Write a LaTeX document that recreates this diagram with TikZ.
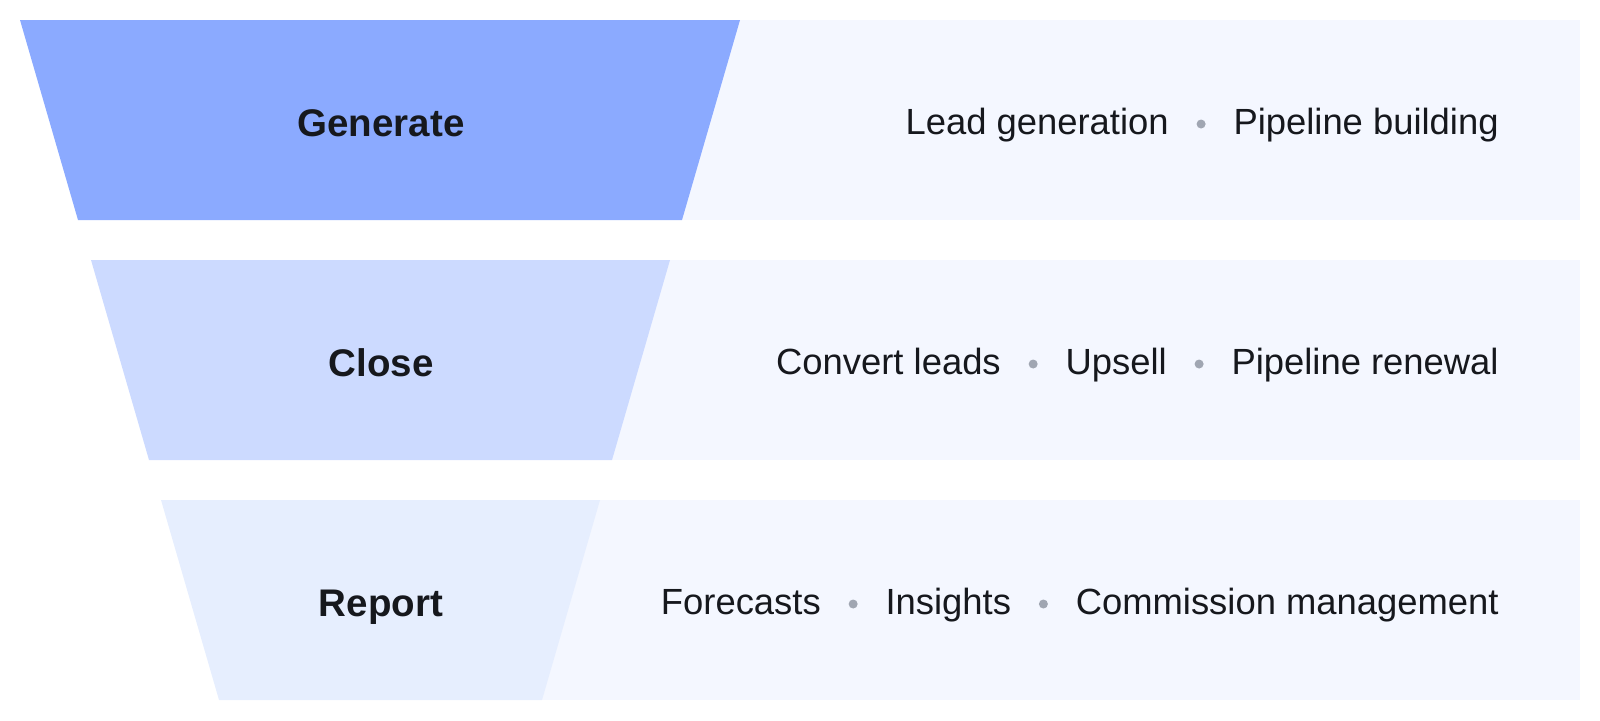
\documentclass[tikz,border=0pt]{standalone}
\usepackage{fontspec}
\setmainfont{Liberation Sans}
\usetikzlibrary{positioning}

\definecolor{genblue}{HTML}{8BAAFF}
\definecolor{closeblue}{HTML}{CCDAFF}
\definecolor{reportblue}{HTML}{E6EEFE}
\definecolor{bandbg}{HTML}{F4F7FF}
\definecolor{ink}{HTML}{16181D}
\definecolor{dotgray}{HTML}{A0A6B2}

\tikzset{
  stage/.style={font=\bfseries\fontsize{19.25}{23}\selectfont, text=ink, anchor=base, inner sep=0pt},
  item/.style={font=\fontsize{18.2}{22}\selectfont, text=ink, inner sep=0pt},
  dot/.style={circle, fill=dotgray, inner sep=0pt, minimum size=4.5pt, yshift=5pt},
}

\begin{document}
\begin{tikzpicture}[x=0.5pt,y=-0.5pt]
\useasboundingbox (0,0) rectangle (1600,720);
% bands
\fill[bandbg] (682,20) rectangle (1580,220);
\fill[bandbg] (612,260) rectangle (1580,460);
\fill[bandbg] (542,500) rectangle (1580,700);
% funnel
\fill[genblue] (20,20) -- (740,20) -- (682,220) -- (78,220) -- cycle;
\fill[closeblue] (91,260) -- (670,260) -- (612,460) -- (149,460) -- cycle;
\fill[reportblue] (161,500) -- (600,500) -- (542,700) -- (219,700) -- cycle;

\node[stage] (gen) at (381,136) {Generate};
\node[stage] (close) at (381,376) {Close};
\node[stage] (report) at (381,616) {Report};

% generate
\node[item, anchor=base east] (gen2) at (1499,134) {Pipeline building};
\node[item, base left=32pt of gen2] (gen1) {Lead generation};
\path (gen1.base east) -- node[dot] (gendot1) {} (gen2.base west);

% close
\node[item, anchor=base east] (close3) at (1499,374) {Pipeline renewal};
\node[item, base left=32pt of close3] (close2) {Upsell};
\node[item, base left=32pt of close2] (close1) {Convert leads};
\path (close1.base east) -- node[dot] (closedot1) {} (close2.base west);
\path (close2.base east) -- node[dot] (closedot2) {} (close3.base west);

% report
\node[item, anchor=base east] (rep3) at (1499,614) {Commission management};
\node[item, base left=32pt of rep3] (rep2) {Insights};
\node[item, base left=32pt of rep2] (rep1) {Forecasts};
\path (rep1.base east) -- node[dot] (repdot1) {} (rep2.base west);
\path (rep2.base east) -- node[dot] (repdot2) {} (rep3.base west);
\end{tikzpicture}
\end{document}
